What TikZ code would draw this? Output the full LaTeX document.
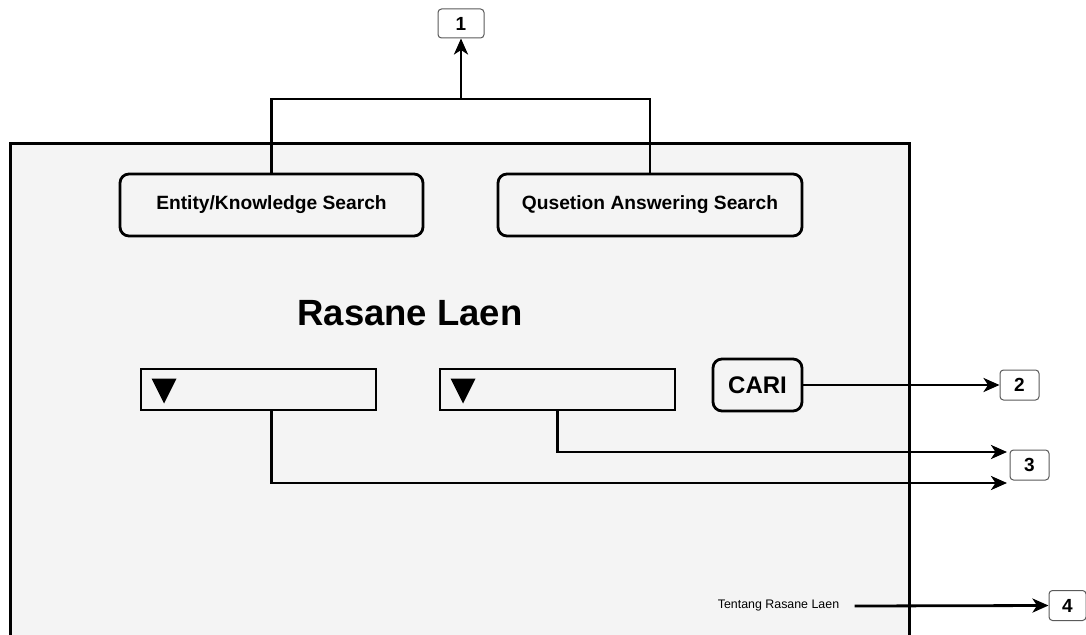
\documentclass[tikz,border=0pt]{standalone}
\usepackage{fontspec}
\setmainfont{Liberation Sans}
\usetikzlibrary{arrows.meta,calc}
\definecolor{panel}{HTML}{F4F4F4}
\definecolor{tagline}{HTML}{5A5A5A}
\tikzset{
  btn/.style={draw=black, line width=2.8pt, rounded corners=9pt, fill=panel,
    font=\fontsize{19.2}{21}\selectfont\bfseries, inner sep=0pt},
  dropbox/.style={draw=black, line width=2.8pt, fill=panel, inner sep=0pt,
    minimum width=235pt, minimum height=41pt},
  tag/.style={draw=tagline, line width=1pt, rounded corners=3.5pt, fill=white,
    font=\fontsize{19}{21}\selectfont\bfseries, inner sep=0pt,
    minimum width=39pt, minimum height=30pt},
  link/.style={line width=2.8pt, black},
  arr/.style={link, -{Stealth[length=16pt,width=14pt,inset=4.5pt]}},
}
\begin{document}
\begin{tikzpicture}[x=1pt,y=-1pt]
\path[use as bounding box] (0,0) rectangle (1086,634);

% page panel, running off the bottom edge
\fill[panel] (10,143) rectangle (909,650);
\draw[line width=3pt] (10,650) -- (10,143) -- (909,143) -- (909,650);

% search mode buttons
\node[btn, minimum width=303pt, minimum height=62pt] (ent) at (271.5,205) {Entity/Knowledge Search};
\node[btn, minimum width=304pt, minimum height=62pt] (qa) at (650,205) {Qusetion Answering Search};

% title
\node[font=\fontsize{36.5}{40}\selectfont\bfseries] (title) at (410,313) {Rasane Laen};

% drop-down lists
\node[dropbox] (dd1) at (258.5,389.5) {};
\node[dropbox] (dd2) at (557.5,389.5) {};
\foreach \d in {dd1,dd2}{
  \fill[black] ($(\d.west)+(12,-11)$) -- ++(25,0) -- ++(-12.5,25) -- cycle;
}

% search button
\node[btn, font=\fontsize{24}{26}\selectfont\bfseries, minimum width=89pt, minimum height=52pt] (cari) at (757.5,385) {CARI};

% footer link
\node[font=\fontsize{12.4}{14}\selectfont] (ttg) at (778.5,606) {Tentang Rasane Laen};

% numbered callouts
\node[tag, minimum width=46pt, minimum height=29pt] (n1) at (461,23.5) {1};
\node[tag] (n2) at (1019.5,385) {2};
\node[tag] (n3) at (1029.5,465) {3};
\node[tag, minimum width=37pt] (n4) at (1067.5,605.5) {4};

% connectors
\coordinate (br) at (461,99);
\draw[link] (ent.north) |- (br) -| (qa.north);
\draw[arr] (br) -- (n1.south);
\draw[arr] (cari.east) -- (n2.west);
\coordinate (e3a) at (1007,452);
\coordinate (e3b) at (1007,483);
\draw[arr] (dd2.south) |- (e3a);
\draw[arr] (ent.north |- dd1.south) |- (e3b);
\draw[arr] ([xshift=12pt]ttg.east) -- (n4.west);
\end{tikzpicture}
\end{document}
